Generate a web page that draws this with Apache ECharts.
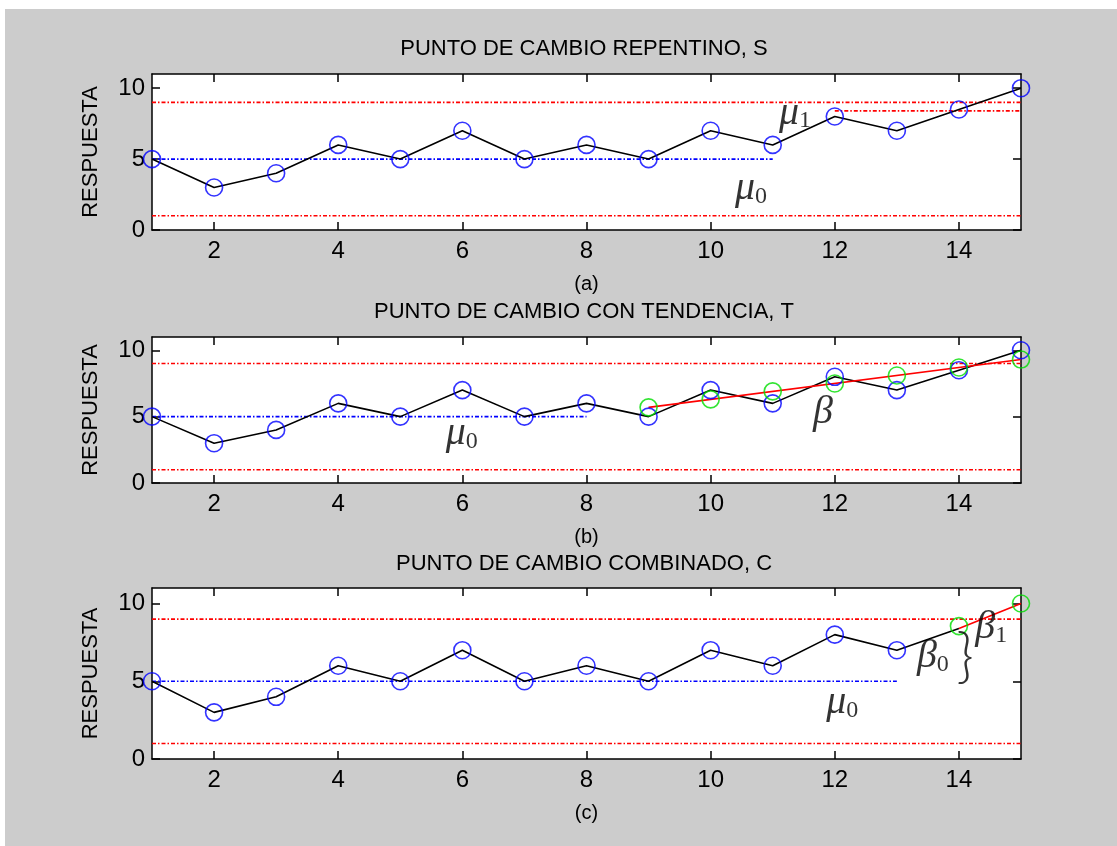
<!DOCTYPE html>
<html>
<head>
<meta charset="utf-8">
<script src="https://cdn.jsdelivr.net/npm/echarts@6/dist/echarts.min.js"></script>
<style>
  html, body { margin: 0; padding: 0; background: #ffffff; }
  #bg { position: absolute; left: 5px; top: 9px; width: 1112px; height: 837px; background: #cccccc; }
  #chart { position: absolute; left: 0; top: 0; width: 1117px; height: 846px; }
</style>
</head>
<body>
<div id="bg"></div>
<div id="chart"></div>
<script>
// ---------------- data ----------------
const xVals = [1, 2, 3, 4, 5, 6, 7, 8, 9, 10, 11, 12, 13, 14, 15];
const respuesta = [5, 3, 4, 6, 5, 7, 5, 6, 5, 7, 6, 8, 7, 8.5, 10];
const limiteSup = 9;
const limiteInf = 1;
const mu0 = 5;
const mu1 = 8.4;
const xTicks = [2, 4, 6, 8, 10, 12, 14];
const yTicks = [0, 5, 10];
// panel (b): trend after change point
const tendX = [9, 10, 11, 12, 13, 14, 15];
const tendVals = [5.7, 6.3, 6.9, 7.5, 8.1, 8.7, 9.3];
// panel (c): combined change
const combX = [14, 15];
const combVals = [8.55, 10];
const combLineVals = [8.4, 10];
const titles = ['PUNTO DE CAMBIO REPENTINO, S', 'PUNTO DE CAMBIO CON TENDENCIA, T', 'PUNTO DE CAMBIO COMBINADO, C'];
const subLabels = ['(a)', '(b)', '(c)'];
const yName = 'RESPUESTA';

// ---------------- layout ----------------
const grids = [
  { left: 152, right: 96, top: 74, height: 156 },
  { left: 152, right: 96, top: 337, height: 146 },
  { left: 152, right: 96, top: 588, height: 171 }
];
const titleTops = [38, 301, 553];
const plotCenterX = 584;

const BLUE = '#0000ff', RED = '#ff0000', GREEN = '#00dd00', BLACK = '#000000';
const dashDot = [4, 2, 1.5, 2];
const sansFont = '"Liberation Sans", Arial, Helvetica, sans-serif';
const serifFont = '"Liberation Serif", "Times New Roman", serif';

const xAxes = [], yAxes = [], series = [], titleOpts = [];

grids.forEach((g, i) => {
  xAxes.push({
    gridIndex: i, type: 'value', min: 1, max: 15, position: 'bottom',
    name: subLabels[i], nameLocation: 'middle', nameGap: 44,
    nameTextStyle: { color: BLACK, fontSize: 20, fontFamily: sansFont },
    axisLine: { show: true, onZero: false, lineStyle: { color: BLACK, width: 1.5 } },
    axisTick: { show: true, inside: true, length: 8, customValues: xTicks, lineStyle: { color: BLACK, width: 1.5 } },
    axisLabel: { show: true, customValues: xTicks, margin: 9, color: BLACK, fontSize: 24, fontFamily: sansFont },
    splitLine: { show: false }
  });
  xAxes.push({
    gridIndex: i, type: 'value', min: 1, max: 15, position: 'top',
    axisLine: { show: true, onZero: false, lineStyle: { color: BLACK, width: 1.5 } },
    axisTick: { show: true, inside: true, length: 8, customValues: xTicks, lineStyle: { color: BLACK, width: 1.5 } },
    axisLabel: { show: false },
    splitLine: { show: false }
  });
  yAxes.push({
    gridIndex: i, type: 'value', min: 0, max: 11, position: 'left',
    name: yName, nameLocation: 'middle', nameGap: 50, nameRotate: 90,
    nameTextStyle: { color: BLACK, fontSize: 22, fontFamily: sansFont },
    axisLine: { show: true, onZero: false, lineStyle: { color: BLACK, width: 1.5 } },
    axisTick: { show: true, inside: true, length: 8, customValues: yTicks, lineStyle: { color: BLACK, width: 1.5 } },
    axisLabel: { show: true, customValues: yTicks, margin: 7, color: BLACK, fontSize: 24, fontFamily: sansFont },
    splitLine: { show: false }
  });
  yAxes.push({
    gridIndex: i, type: 'value', min: 0, max: 11, position: 'right',
    axisLine: { show: true, onZero: false, lineStyle: { color: BLACK, width: 1.5 } },
    axisTick: { show: true, inside: true, length: 8, customValues: yTicks, lineStyle: { color: BLACK, width: 1.5 } },
    axisLabel: { show: false },
    splitLine: { show: false }
  });
  titleOpts.push({
    text: titles[i], left: plotCenterX, top: titleTops[i], textAlign: 'center', padding: 0,
    textStyle: { color: BLACK, fontSize: 22, fontWeight: 'normal', fontFamily: sansFont }
  });
});

function ax(i) { return { xAxisIndex: 2 * i, yAxisIndex: 2 * i }; }

function hLine(i, y, x0, x1, color) {
  series.push(Object.assign({
    type: 'line', data: [[x0, y], [x1, y]], symbol: 'none', silent: true, z: 2,
    lineStyle: { color: color, width: 1.6, type: dashDot }
  }, ax(i)));
}
function pairs(xs, ys) { return xs.map((x, k) => [x, ys[k]]); }
function solidLine(i, data, color, z) {
  series.push(Object.assign({
    type: 'line', data: data, symbol: 'none', silent: true, z: z || 3,
    lineStyle: { color: color, width: 1.6, type: 'solid' }
  }, ax(i)));
}
function circles(i, data, color) {
  series.push(Object.assign({
    type: 'scatter', data: data, symbol: 'circle', symbolSize: 17, clip: false, silent: true, z: 4,
    itemStyle: { color: 'rgba(0,0,0,0)', borderColor: color, borderWidth: 1.6 }
  }, ax(i)));
}
function annot(i, pos, text) {
  series.push(Object.assign({
    type: 'scatter', data: [pos], symbolSize: 1, clip: false, silent: true, z: 6,
    itemStyle: { color: 'rgba(0,0,0,0)' },
    label: {
      show: true, position: 'inside', formatter: text,
      rich: {
        g: { fontFamily: serifFont, fontStyle: 'italic', fontSize: 40, lineHeight: 40, color: BLACK },
        s: { fontFamily: serifFont, fontSize: 24, lineHeight: 16, verticalAlign: 'bottom', color: BLACK }
      }
    }
  }, ax(i)));
}
function brace(i, pos) {
  series.push(Object.assign({
    type: 'scatter', data: [pos], symbolSize: 1, clip: false, silent: true, z: 6,
    itemStyle: { color: 'rgba(0,0,0,0)' },
    label: {
      show: true, position: 'inside', formatter: '}',
      fontFamily: 'Lato, "DejaVu Sans", sans-serif', fontSize: 60, lineHeight: 60, color: BLACK, fontWeight: 300
    }
  }, ax(i)));
}

const allPts = pairs(xVals, respuesta);

// ----- panel (a) -----
hLine(0, limiteSup, 1, 15, RED);
hLine(0, limiteInf, 1, 15, RED);
hLine(0, mu0, 1, 11, BLUE);
hLine(0, mu1, 12, 15, RED);
solidLine(0, allPts, BLACK);
circles(0, allPts, BLUE);
annot(0, [11.36, 8.25], '{g|μ}{s|1}');
annot(0, [10.65, 2.9], '{g|μ}{s|0}');

// ----- panel (b) -----
hLine(1, limiteSup, 1, 15, RED);
hLine(1, limiteInf, 1, 15, RED);
hLine(1, mu0, 1, 8, BLUE);
solidLine(1, allPts, BLACK);
solidLine(1, [[tendX[0], tendVals[0]], [tendX[tendX.length - 1], tendVals[tendVals.length - 1]]], RED, 3);
circles(1, allPts, BLUE);
circles(1, pairs(tendX, tendVals), GREEN);
annot(1, [5.99, 3.75], '{g|μ}{s|0}');
annot(1, [11.81, 5.35], '{g|β}');

// ----- panel (c) -----
hLine(2, limiteSup, 1, 15, RED);
hLine(2, limiteInf, 1, 15, RED);
hLine(2, mu0, 1, 13, BLUE);
const cBlack = allPts.slice(0, 13).concat([[combX[0], combLineVals[0]]]);
solidLine(2, cBlack, BLACK);
solidLine(2, pairs(combX, combLineVals), RED);
circles(2, allPts.slice(0, 13), BLUE);
circles(2, pairs(combX, combVals), GREEN);
annot(2, [12.12, 3.64], '{g|μ}{s|0}');
annot(2, [13.58, 6.6], '{g|β}{s|0}');
annot(2, [14.52, 8.44], '{g|β}{s|1}');
brace(2, [14.1, 6.6]);

const chart = echarts.init(document.getElementById('chart'), null, { renderer: 'canvas' });
chart.setOption({
  animation: false,
  backgroundColor: 'transparent',
  title: titleOpts,
  grid: grids.map(g => Object.assign({ show: true, backgroundColor: '#ffffff', borderWidth: 0, containLabel: false }, g)),
  xAxis: xAxes,
  yAxis: yAxes,
  series: series
});
</script>
</body>
</html>
